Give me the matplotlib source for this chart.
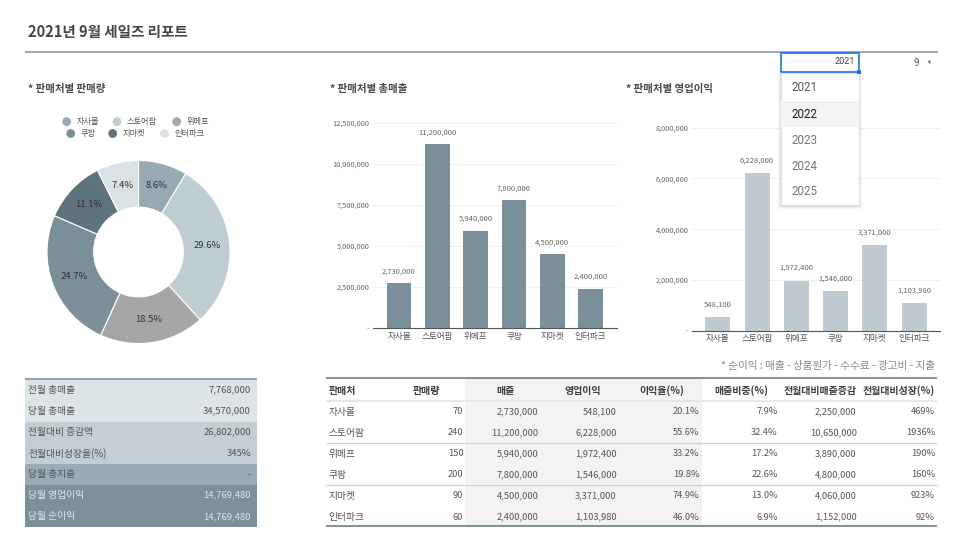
import matplotlib
matplotlib.use('Agg')
import matplotlib.pyplot as plt
from matplotlib.patches import Rectangle
import numpy as np

plt.rcParams['font.family'] = ['Noto Sans CJK KR', 'DejaVu Sans']

# ---------------- data ----------------
channels = ['자사몰', '스토어팜', '위메프', '쿠팡', '지마켓', '인터파크']
qty = [70, 240, 150, 200, 90, 60]
sales = [2730000, 11200000, 5940000, 7800000, 4500000, 2400000]
op_profit = [548100, 6228000, 1972400, 1546000, 3371000, 1103980]
margin_pct = [20.1, 55.6, 33.2, 19.8, 74.9, 46.0]
share_pct = [7.9, 32.4, 17.2, 22.6, 13.0, 6.9]
mom_diff = [2250000, 10650000, 3890000, 4800000, 4060000, 1152000]
mom_growth = [469, 1936, 190, 160, 923, 92]
summary_labels = ['전월 총매출', '당월 총매출', '전월대비 증감액', '전월대비성장율(%)',
                  '당월 총지출', '당월 영업이익', '당월 순이익']
summary_values = ['7,768,000', '34,570,000', '26,802,000', '345%', '-',
                  '14,769,480', '14,769,480']
years = ['2021', '2022', '2023', '2024', '2025']
sales_ticks = [0, 2500000, 5000000, 7500000, 10000000, 12500000]
profit_ticks = [0, 2000000, 4000000, 6000000, 8000000]
table_headers = ['판매처', '판매량', '매출', '영업이익', '이익율(%)', '매출비중(%)',
                 '전월대비매출증감', '전월대비성장(%)']

pie_colors = ['#97a9b2', '#bfccd2', '#a6a6a6', '#7b8f99', '#5f737d', '#dbe2e5']

W, H = 966, 546
fig = plt.figure(figsize=(W / 100, H / 100), dpi=100)
fig.patch.set_facecolor('white')


def ax_px(x0, y0, x1, y1):
    return fig.add_axes([x0 / W, 1 - y1 / H, (x1 - x0) / W, (y1 - y0) / H])


def fmt(v):
    return '-' if v == 0 else f'{v:,.0f}'


# ---------------- overlay (pixel coordinates) ----------------
ov = fig.add_axes([0, 0, 1, 1])
ov.set_xlim(0, W)
ov.set_ylim(H, 0)
ov.axis('off')
ov.set_zorder(10)
ov.patch.set_alpha(0)

# title & header rule
ov.text(28, 32, '2021년 9월 세일즈 리포트', fontsize=10.5, fontweight='bold',
        color='#444444', va='center', ha='left')
ov.plot([25, 938], [51.5, 51.5], color='#7f949e', lw=1.1, solid_capstyle='butt')

# section titles
for sx, s in [(28, '* 판매처별 판매량'), (330, '* 판매처별 총매출'), (626, '* 판매처별 영업이익')]:
    ov.text(sx, 88.5, s, fontsize=7.5, fontweight='bold', color='#4a4a4a',
            va='center', ha='left')

# ---------------- donut ----------------
cx, cy, r = 138.5, 252, 91.5
axp = ax_px(cx - r, cy - r, cx + r, cy + r)
wedges, _, autotexts = axp.pie(qty, colors=pie_colors, startangle=90, counterclock=False,
                               radius=1.0, wedgeprops=dict(width=0.51, edgecolor='white', linewidth=0.8),
                               autopct='%1.1f%%', pctdistance=0.75,
                               textprops=dict(fontsize=6.8, color='#333333'))
axp.set_xlim(-1, 1)
axp.set_ylim(-1, 1)
axp.set_aspect('equal')
axp.axis('off')

# legend (manual placement)
leg_pos = [(66.7, 121.7), (117, 121.7), (176.7, 121.7),
           (70.7, 133.5), (112.7, 133.5), (164.5, 133.5)]
for (lx, ly), name, col in zip(leg_pos, channels, pie_colors):
    ov.scatter([lx], [ly], s=40, color=col, edgecolors='none')
    ov.text(lx + 10, ly, name, fontsize=5.9, color='#555555', va='center', ha='left')

# ---------------- bar charts ----------------
def style_bar_axis(ax, ticks, labelpad_x):
    ax.set_yticks(ticks)
    ax.set_yticklabels([fmt(t) for t in ticks])
    ax.tick_params(axis='y', length=0, labelsize=5.3, labelcolor='#666666', pad=2.5)
    ax.tick_params(axis='x', length=0, labelsize=6.2, labelcolor='#555555', pad=labelpad_x)
    for sp in ['top', 'right', 'left']:
        ax.spines[sp].set_visible(False)
    ax.spines['bottom'].set_color('#555555')
    ax.spines['bottom'].set_linewidth(0.8)
    ax.grid(axis='y', color='#eeeeee', lw=0.6)
    ax.set_axisbelow(True)
    ax.patch.set_alpha(0)


ax1 = ax_px(373, 123, 617, 328)
x = np.arange(len(channels))
ax1.bar(x, sales, width=0.65, color='#7a8f9a')
ax1.set_xlim(-0.68, 5.69)
ax1.set_ylim(0, 12500000)
ax1.set_xticks(x)
ax1.set_xticklabels(channels)
style_bar_axis(ax1, sales_ticks, 3.2)
for xi, v in zip(x, sales):
    ax1.annotate(fmt(v), (xi, v), xytext=(0, 8.5), textcoords='offset points',
                 ha='center', va='center', fontsize=5.5, color='#666666', clip_on=False)

ax2 = ax_px(692, 127.7, 940, 330.7)
ax2.bar(x, op_profit, width=0.64, color='#bfcbd1')
ax2.set_xlim(-0.66, 5.66)
ax2.set_ylim(0, 8000000)
ax2.set_xticks(x)
ax2.set_xticklabels(channels)
style_bar_axis(ax2, profit_ticks, 2.3)
for xi, v in zip(x, op_profit):
    ax2.annotate(fmt(v), (xi, v), xytext=(0, 9), textcoords='offset points',
                 ha='center', va='center', fontsize=5.5, color='#666666', clip_on=False)

# ---------------- dropdown ----------------
for i, a in enumerate([0.05, 0.04, 0.03]):
    ov.add_patch(Rectangle((781 - 1 - i, 73), 78 + 2 + 2 * i, 133 + 1 + i,
                           facecolor='black', alpha=a, edgecolor='none', zorder=2))
ov.add_patch(Rectangle((781, 72.5), 77.5, 132.5, facecolor='white', edgecolor='#dddddd',
                       lw=0.5, zorder=3))
ov.add_patch(Rectangle((781, 101), 77.5, 26, facecolor='#f3f3f3', edgecolor='none', zorder=3.5))
item_y = [87.3, 114, 140, 166, 191.7]
item_col = ['#555555', '#222222', '#777777', '#777777', '#777777']
for yv, yy, c in zip(years, item_y, item_col):
    ov.text(791.5, yy, yv, fontsize=8.4, color=c, family=['Roboto', 'DejaVu Sans'],
            va='center', ha='left', zorder=4)
ov.add_patch(Rectangle((781, 52.5), 78, 19.5, facecolor='white', edgecolor='#1a73e8',
                       lw=1.2, zorder=5))
ov.add_patch(Rectangle((857, 70), 4, 4, facecolor='#1a73e8', edgecolor='none', zorder=6))
ov.text(854.5, 62, years[0], fontsize=6.5, color='#444444', family=['Roboto', 'DejaVu Sans'],
        va='center', ha='right', zorder=6)
ov.text(916.5, 63, '9', fontsize=7, color='#555555', family=['Roboto', 'DejaVu Sans'],
        va='center', ha='center')
ov.scatter([929.5], [62.5], marker='v', s=7, color='#777777', edgecolors='none')

# footnote
ov.text(935, 365.5, '* 순이익 : 매출 - 상품원가 - 수수료 - 광고비 - 지출', fontsize=7.6,
        color='#888888', ha='right', va='center')

# ---------------- left summary table ----------------
row_h = 21.05
top = 379.5
bg = ['#dde4e7', '#dde4e7', '#c2ced3', '#c2ced3', '#99abb4', '#7b909a', '#7b909a']
fg = ['#555555', '#555555', '#555555', '#555555', '#555555', '#dfe6e9', '#dfe6e9']
for i, (lab, val) in enumerate(zip(summary_labels, summary_values)):
    y0 = top + i * row_h
    ov.add_patch(Rectangle((25, y0), 232, row_h + 0.3, facecolor=bg[i], edgecolor='none'))
    ov.text(28.5, y0 + row_h / 2, lab, fontsize=7, color=fg[i], va='center', ha='left')
    ov.text(251, y0 + row_h / 2, val, fontsize=6.8, color=fg[i], va='center', ha='right')
ov.plot([25, 257], [378.5, 378.5], color='#8a9ba3', lw=1.3, solid_capstyle='butt')

# ---------------- right data table ----------------
ov.add_patch(Rectangle((465, 379), 237, 146, facecolor='#f3f3f3', edgecolor='none'))
ov.plot([326, 937], [378.3, 378.3], color='#7d8f98', lw=1.4, solid_capstyle='butt')
ov.plot([326, 937], [401, 401], color='#e3e6e8', lw=1.3, solid_capstyle='butt')
ov.plot([326, 937], [442.8, 442.8], color='#c9d1d5', lw=0.9, solid_capstyle='butt')
ov.plot([326, 937], [484.8, 484.8], color='#c9d1d5', lw=0.9, solid_capstyle='butt')
ov.plot([326, 937], [525.5, 525.5], color='#7d8f98', lw=1.4, solid_capstyle='butt')

head_x = [328.5, 426.5, 505, 583, 662, 741, 820, 899]
head_ha = ['left'] + ['center'] * 7
for hx, ha, h in zip(head_x, head_ha, table_headers):
    ov.text(hx, 390.8, h, fontsize=7.2, fontweight='bold', color='#3f3f3f', va='center', ha=ha)

col_right = [463.3, 538.3, 616.7, 699.5, 777.7, 856.7, 935]
row_y = [411.7, 432.8, 453.8, 474.9, 496, 517]
for i, ch in enumerate(channels):
    yy = row_y[i]
    vals = [f'{qty[i]}', fmt(sales[i]), fmt(op_profit[i]), f'{margin_pct[i]:.1f}%',
            f'{share_pct[i]:.1f}%', fmt(mom_diff[i]), f'{mom_growth[i]}%']
    ov.text(328.5, yy, ch, fontsize=7, color='#555555', va='center', ha='left')
    for cx_, v in zip(col_right, vals):
        ov.text(cx_, yy, v, fontsize=6.7, color='#555555', va='center', ha='right')

fig.savefig('out.png', dpi=100, facecolor='white')
